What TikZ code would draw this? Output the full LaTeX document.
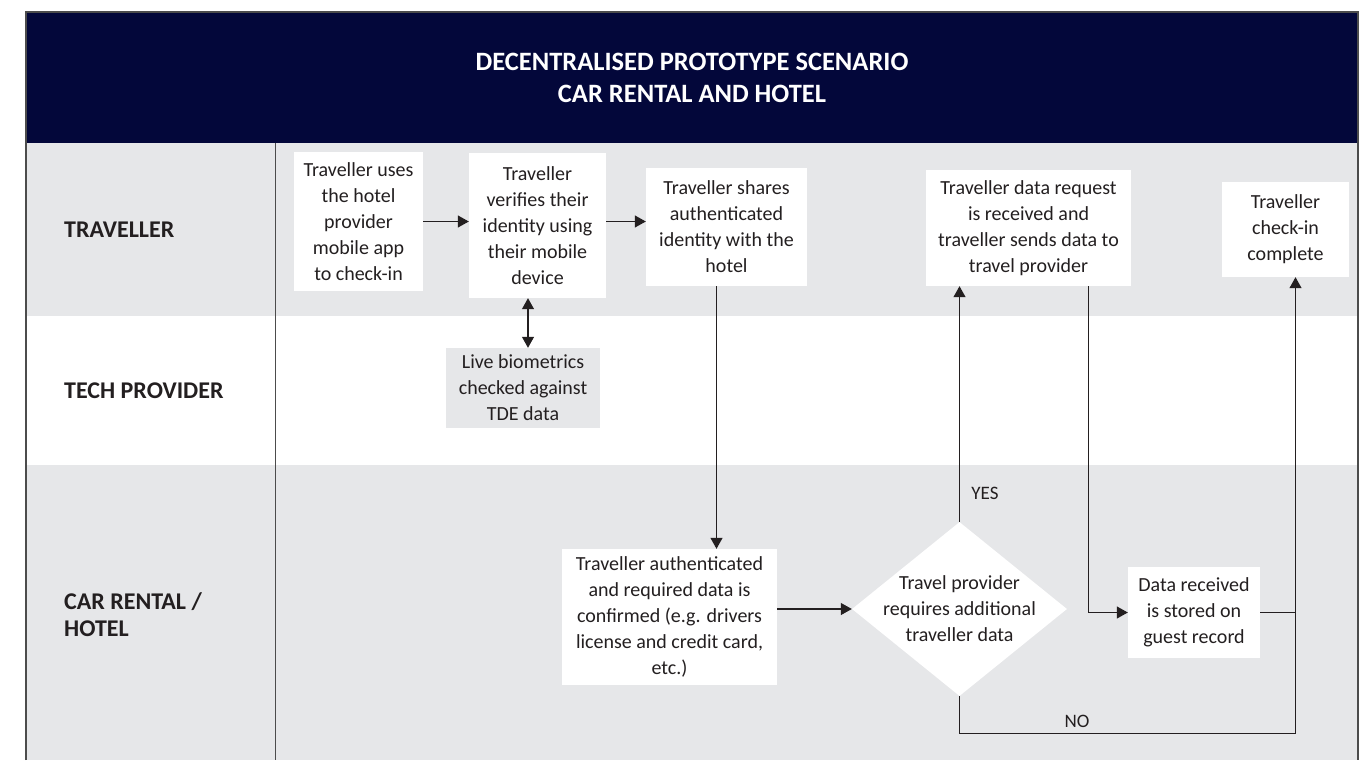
\documentclass[tikz,border=0pt]{standalone}
\usepackage{fontspec}
\setmainfont{Carlito}
\usepackage{tikz}
\usetikzlibrary{arrows.meta, shapes.geometric}
\definecolor{navy}{HTML}{03073A}
\definecolor{lane}{HTML}{E6E7E9}
\definecolor{ink}{HTML}{231F20}
\tikzstyle{box}=[fill=white, text=ink, align=center, inner sep=0pt, font=\fontsize{20}{26}\selectfont]
\tikzstyle{lbl}=[anchor=west, text=ink, align=left, inner sep=0pt, font=\fontsize{24}{27}\selectfont\bfseries]
\tikzstyle{arr}=[draw=ink, line width=1.1pt, -{Triangle[length=11pt, width=12pt]}]
\tikzstyle{dia}=[diamond, fill=white, minimum width=215pt, minimum height=174pt, inner sep=0pt]

\begin{document}
\begin{tikzpicture}[x=1pt, y=-1pt]
  \useasboundingbox (0,0) rectangle (1367,760);
  % lanes and frame
  \fill[navy] (26,12) rectangle (1358,143);
  \fill[lane] (26,143) rectangle (1358,316);
  \fill[lane] (26,465) rectangle (1358,760);
  \draw[black!70, line width=1.2pt] (26,760) -- (26,12) -- (1358,12) -- (1358,760);
  \draw[black!70, line width=1pt] (275,143) -- (275,760);
  \node[white, align=center, font=\fontsize{26.5}{32}\selectfont\bfseries] (title) at (692,78)
    {DECENTRALISED PROTOTYPE SCENARIO\\CAR RENTAL AND HOTEL};
  \node[lbl] (trav) at (64,230) {TRAVELLER};
  \node[lbl] (tech) at (64,391) {TECH PROVIDER};
  \node[lbl] (hotel) at (64,615) {CAR RENTAL /\\HOTEL};
  % steps
  \node[box, minimum width=129pt, minimum height=139pt] (app) at (358.5,221.5)
    {Traveller uses\\the hotel\\provider\\mobile app\\to check-in};
  \node[box, minimum width=137pt, minimum height=145pt] (verify) at (537.5,225.5)
    {Traveller\\verifies their\\identity using\\their mobile\\device};
  \node[box, minimum width=161pt, minimum height=118pt] (share) at (726.5,227)
    {Traveller shares\\authenticated\\identity with the\\hotel};
  \node[box, minimum width=205pt, minimum height=116pt] (request) at (1028.5,228)
    {Traveller data request\\is received and\\traveller sends data to\\travel provider};
  \node[box, minimum width=127pt, minimum height=95pt] (done) at (1285.5,229.5)
    {Traveller\\check-in\\complete};
  \node[box, fill=lane, minimum width=154pt, minimum height=80pt] (bio) at (523,388)
    {Live biometrics\\checked against\\TDE data};
  \node[box, minimum width=215pt, minimum height=136pt] (confirm) at (669.5,617)
    {Traveller authenticated\\and required data is\\confirmed (e.g. drivers\\license and credit card,\\etc.)};
  \node[dia] (decide) at (959.5,609) {};
  \node[box, fill=none] (decidetxt) at (decide.center)
    {Travel provider\\requires additional\\traveller data};
  \node[box, minimum width=132pt, minimum height=91pt] (store) at (1194,612.5)
    {Data received\\is stored on\\guest record};
  \coordinate (join) at ([xshift=10pt]done.south |- store.east);
  % connectors
  \draw[arr] (app.east) -- (app.east -| verify.west);
  \draw[arr] (app.east -| verify.east) -- (app.east -| share.west);
  \draw[arr, {Triangle[length=11pt, width=12pt]}-{Triangle[length=11pt, width=12pt]}]
    ([xshift=5pt]bio.north) -- ([xshift=5pt]bio.north |- verify.south);
  \draw[arr] ([xshift=-10pt]share.south) -- ([xshift=-10pt]share.south |- confirm.north);
  \draw[arr] (confirm.east |- decide.west) -- (decide.west);
  \draw[arr] (decide.north) -- (decide.north |- request.south)
    node[pos=0.12, right=8pt, text=ink, font=\fontsize{19}{24}\selectfont] {YES};
  \draw[arr] ([xshift=60pt]request.south) |- (store.west);
  \draw[arr] (store.east) -| ([xshift=10pt]done.south);
  \draw[draw=ink, line width=1.1pt] (decide.south) -- ++(0,37) coordinate (nobend)
    -| (join) node[pos=0.175, above=2pt, text=ink, font=\fontsize{19}{24}\selectfont] {NO};
\end{tikzpicture}
\end{document}
